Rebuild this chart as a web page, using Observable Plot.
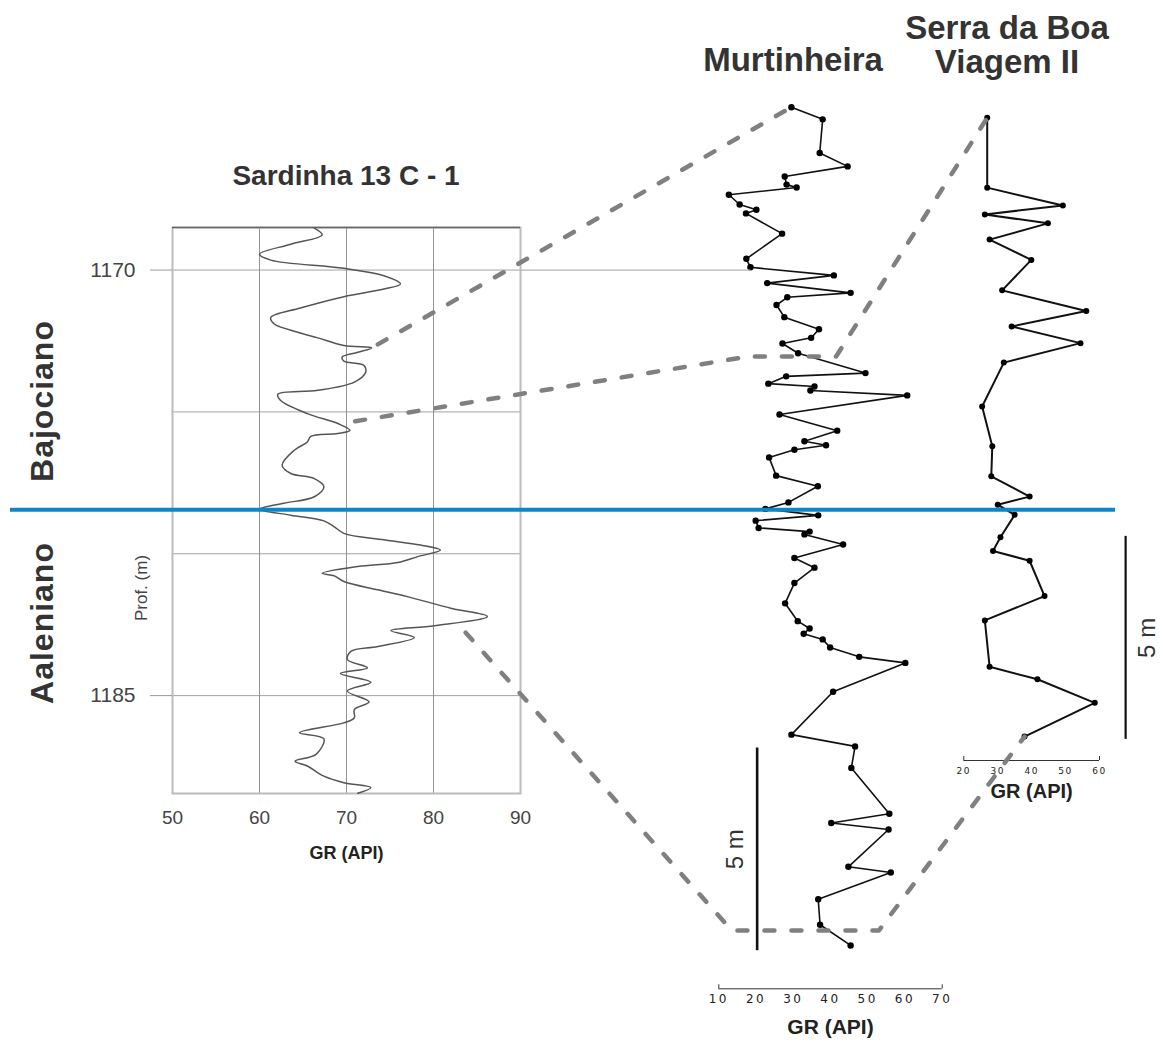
<!DOCTYPE html>
<html><head><meta charset="utf-8">
<script src="https://cdn.jsdelivr.net/npm/d3@7"></script>
<script src="https://cdn.jsdelivr.net/npm/@observablehq/plot@0.6"></script>
<style>
body{margin:0;background:#fff;font-family:"Liberation Sans",Arial,sans-serif;}
#wrap{position:relative;width:1163px;height:1048px;overflow:hidden;background:#fff;}
#wrap svg{position:absolute;top:0;}
.lbl{position:absolute;transform:translate(-50%,-50%);white-space:nowrap;color:#333;font-weight:bold;}
.rot{transform:translate(-50%,-50%) rotate(-90deg);}
.murt g[aria-label="x-axis tick label"] text{letter-spacing:2.5px;}
.serra g[aria-label="x-axis tick label"] text{letter-spacing:1.5px;}
</style></head><body><div id="wrap"></div>
<script>
// ---------- Sardinha 13 C - 1 (continuous GR log) ----------
const sardGR = [66.3,67.2,63.6,60.0,61.3,69.7,74.3,76.2,74.3,69.7,64.7,61.3,61.7,64.4,66.7,69.7,72.9,71.3,69.5,69.7,72.0,72.2,70.9,66.7,62.1,62.4,65.5,69.0,70.4,69.0,65.9,65.5,64.0,62.6,63.6,66.3,67.4,66.3,62.8,60.0,63.6,67.4,68.6,69.7,74.3,78.5,80.8,78.2,75.9,71.3,67.2,68.6,69.7,73.6,77.0,82.0,86.2,80.1,75.1,77.8,73.6,70.5,70.1,72.4,69.3,72.8,70.1,72.6,70.9,70.9,69.7,64.6,67.4,66.5,64.1,65.5,67.4,69.7,72.8,71.3];
const sardDepth = [1168.52,1168.76,1169.09,1169.44,1169.65,1169.94,1170.20,1170.49,1170.67,1170.94,1171.34,1171.67,1171.90,1172.19,1172.39,1172.66,1172.74,1172.90,1173.07,1173.21,1173.36,1173.60,1173.95,1174.24,1174.38,1174.59,1175.06,1175.41,1175.65,1175.76,1175.86,1176.06,1176.35,1176.88,1177.17,1177.35,1177.64,1177.99,1178.22,1178.43,1178.64,1178.84,1179.05,1179.28,1179.51,1179.69,1179.87,1180.10,1180.31,1180.45,1180.69,1180.78,1180.98,1181.27,1181.51,1181.92,1182.21,1182.54,1182.71,1182.95,1183.27,1183.44,1183.73,1184.02,1184.22,1184.53,1184.84,1185.22,1185.49,1185.78,1185.96,1186.31,1186.52,1187.07,1187.31,1187.48,1187.84,1188.07,1188.24,1188.44];
const sardXTicks = [50,60,70,80,90];
const sardYTicks = [1170,1185];
const sardGridY = [1170,1175,1180,1185];
const sardGridX = [60,70,80];
const sardDomainY = [1168.5,1188.45];
const boundaryDepth = 1178.45; // Bajociano / Aaleniano

// ---------- Murtinheira (GR points, depth in m from top) ----------
const murtGR = [29.5,37.9,37.1,44.6,27.7,28.2,30.9,12.7,15.6,20.1,17.3,27.0,17.4,18.5,40.9,23.0,45.4,28.4,25.5,27.6,36.9,34.8,27.1,31.3,49.4,28.1,23.3,35.7,34.6,60.6,26.3,41.8,33.0,38.8,30.3,23.5,25.4,36.6,28.7,22.5,36.7,19.9,20.7,34.4,33.0,43.4,30.3,35.7,30.3,27.8,31.2,34.4,32.8,37.9,39.9,47.7,60.1,40.7,29.5,46.6,45.6,55.8,40.2,55.6,44.8,56.2,36.7,37.2,45.4];
const murtDepth = [0,0.30,1.13,1.46,1.71,1.91,1.98,2.16,2.40,2.53,2.62,3.12,3.74,3.95,4.15,4.34,4.58,4.69,4.88,5.18,5.48,5.69,5.83,6.07,6.56,6.64,6.82,6.89,6.99,7.11,7.58,7.98,8.24,8.34,8.45,8.64,9.09,9.35,9.75,9.91,10.07,10.20,10.38,10.47,10.54,10.79,11.12,11.36,11.74,12.24,12.68,12.86,12.99,13.13,13.33,13.56,13.71,14.42,15.48,15.77,16.30,17.43,17.66,17.82,18.74,18.88,19.54,20.17,20.68];
const murtTicks = [10,20,30,40,50,60,70];
const murtDomainY = [0,21.75];
const murtBar = {gr:20.3, top:15.81, bottom:20.81, label:"5 m"};

// ---------- Serra da Boa Viagem II ----------
const serraGR = [26.9,26.9,49.2,26.2,44.8,27.6,39.9,31.3,56.1,34.1,54.4,31.8,25.4,28.4,28.1,39.4,30.0,35.0,30.8,28.6,39.4,43.8,26.2,27.6,41.7,58.6,37.9];
const serraDepth = [0,1.72,2.16,2.38,2.60,3.00,3.50,4.25,4.76,5.14,5.55,6.03,7.11,8.09,8.83,9.33,9.53,9.78,10.33,10.67,10.91,11.78,12.38,13.52,13.83,14.41,15.24];
const serraTicks = [20,30,40,50,60];
const serraDomainY = [0,15.83];
const serraBar = {gr:67.7, top:10.31, bottom:15.31, label:"5 m"};

// ---------- Correlation connectors (panel, GR, depth) ----------
const connId    = [1,1, 2,2,2,2, 3,3,3,3];
const connPanel = ["sard","murt", "sard","murt","murt","serra", "sard","murt","murt","serra"];
const connGR    = [73.6,29.5, 71.0,18.0,41.5,26.9, 83.7,13.5,53.0,37.9];
const connDepth = [1172.62,0, 1175.33,6.15,6.15,0, 1182.78,20.31,20.31,15.24];

// ---------- build ----------
const wrap = document.getElementById("wrap");
const FONT = "Liberation Sans, Arial, sans-serif";
const sard = sardGR.map((g,i)=>({gr:g, depth:sardDepth[i]}));
const murt = murtGR.map((g,i)=>({gr:g, depth:murtDepth[i]}));
const serra = serraGR.map((g,i)=>({gr:g, depth:serraDepth[i]}));

const sardPlot = Plot.plot({
  width:560, height:880, marginLeft:172, marginRight:40, marginTop:227, marginBottom:87,
  style:{background:"transparent", fontFamily:FONT},
  x:{domain:[sardXTicks[0], sardXTicks[sardXTicks.length-1]], label:null},
  y:{domain:sardDomainY, reverse:true, label:null},
  marks:[
    Plot.ruleX(sardGridX, {stroke:"#777", strokeWidth:0.8}),
    Plot.ruleY(sardGridY, {stroke:"#8a8a8a", strokeWidth:0.8}),
    Plot.frame({stroke:"#bbb", strokeWidth:2}),
    Plot.ruleY([sardDomainY[0]], {stroke:"#666", strokeWidth:1.6}),
    Plot.axisY({ticks:sardYTicks, tickSize:22, tickPadding:15, stroke:"#999", fill:"#444", fontSize:21, tickFormat:"d", label:null}),
    Plot.axisX({ticks:sardXTicks, tickSize:0, tickPadding:17, fill:"#444", fontSize:19, label:null}),
    Plot.line(sard, {x:"gr", y:"depth", curve:"catmull-rom", stroke:"#555", strokeWidth:1.5}),
    Plot.text(["GR (API)"], {frameAnchor:"bottom", dy:65, fontWeight:"bold", fontSize:18, fill:"#222"})
  ]
});
sardPlot.style.left = "0px";
wrap.appendChild(sardPlot);

const murtPlot = Plot.plot({
  className:"murt",
  width:320, height:1048, marginLeft:58.3, marginRight:38.3, marginTop:106.7, marginBottom:59.7,
  style:{background:"transparent", fontFamily:FONT},
  x:{domain:[murtTicks[0], murtTicks[murtTicks.length-1]], label:null},
  y:{domain:murtDomainY, reverse:true, label:null, axis:null},
  marks:[
    Plot.ruleY([murtDomainY[1]], {stroke:"#333", strokeWidth:1}),
    Plot.axisX({ticks:[murtTicks[0], murtTicks[murtTicks.length-1]], tickSize:4, dy:-4, stroke:"#333", tickFormat:()=>"", label:null}),
    Plot.axisX({ticks:murtTicks, tickSize:0, tickPadding:6, fill:"#222", fontSize:12, fontFamily:"DejaVu Sans", label:null}),
    Plot.ruleX([murtBar], {x:"gr", y1:"top", y2:"bottom", stroke:"#111", strokeWidth:2.6}),
    Plot.text([murtBar], {x:"gr", y:d=>(d.top+d.bottom)/2, text:"label", rotate:-90, dx:-22, fontSize:24, fill:"#333"}),
    Plot.line(murt, {x:"gr", y:"depth", stroke:"#111", strokeWidth:1.6}),
    Plot.dot(murt, {x:"gr", y:"depth", r:3.2, fill:"#000"}),
    Plot.text(["GR (API)"], {frameAnchor:"bottom", dy:45, fontWeight:"bold", fontSize:21, fill:"#222"})
  ]
});
murtPlot.style.left = "660px";
wrap.appendChild(murtPlot);

const serraPlot = Plot.plot({
  className:"serra",
  width:263, height:1048, marginLeft:63.3, marginRight:64, marginTop:117.3, marginBottom:288,
  style:{background:"transparent", fontFamily:FONT},
  x:{domain:[serraTicks[0], serraTicks[serraTicks.length-1]], label:null},
  y:{domain:serraDomainY, reverse:true, label:null, axis:null},
  marks:[
    Plot.ruleY([serraDomainY[1]], {stroke:"#333", strokeWidth:1}),
    Plot.axisX({ticks:[serraTicks[0], serraTicks[serraTicks.length-1]], tickSize:4, dy:-4, stroke:"#333", tickFormat:()=>"", label:null}),
    Plot.axisX({ticks:serraTicks, tickSize:0, tickPadding:7, fill:"#222", fontSize:9, fontFamily:"DejaVu Sans", label:null}),
    Plot.ruleX([serraBar], {x:"gr", y1:"top", y2:"bottom", stroke:"#111", strokeWidth:2.2}),
    Plot.text([serraBar], {x:"gr", y:d=>(d.top+d.bottom)/2, text:"label", rotate:-90, dx:22, fontSize:24, fill:"#333"}),
    Plot.line(serra, {x:"gr", y:"depth", stroke:"#111", strokeWidth:2}),
    Plot.dot(serra, {x:"gr", y:"depth", r:3, fill:"#000"}),
    Plot.text(["GR (API)"], {frameAnchor:"bottom", dy:37, fontWeight:"bold", fontSize:20, fill:"#222"})
  ]
});
serraPlot.style.left = "900px";
wrap.appendChild(serraPlot);

// ---------- overlay: correlation lines & stage boundary ----------
const panels = {sard:{plot:sardPlot,left:0}, murt:{plot:murtPlot,left:660}, serra:{plot:serraPlot,left:900}};
const px = (p,v) => panels[p].left + panels[p].plot.scale("x").apply(v);
const py = (p,v) => panels[p].plot.scale("y").apply(v);
const conn = connId.map((id,i)=>({id, x:px(connPanel[i], connGR[i]), y:py(connPanel[i], connDepth[i])}));
const blueY = py("sard", boundaryDepth);
const ext = {x1:px("sard", sardXTicks[sardXTicks.length-1]), x2:px("murt", murtGR[13]), y:py("sard", sardGridY[0])};

const overlay = Plot.plot({
  width:1163, height:1048, marginTop:0, marginBottom:0, marginLeft:10, marginRight:48,
  style:{background:"transparent"},
  x:{type:"identity", axis:null}, y:{type:"identity", axis:null},
  marks:[
    Plot.link([ext], {x1:"x1", x2:"x2", y1:"y", y2:"y", stroke:"#b5b5b5", strokeWidth:1.2}),
    Plot.ruleY([blueY], {stroke:"#0b87c9", strokeWidth:4}),
    Plot.line(conn, {x:"x", y:"y", z:"id", stroke:"#808080", strokeWidth:4.5, strokeDasharray:"10,17", strokeLinejoin:"round"})
  ]
});
overlay.style.left = "0px";
wrap.appendChild(overlay);

// ---------- titles & labels ----------
function label(text, x, y, size, extra){
  const d = document.createElement("div");
  d.className = "lbl" + (extra && extra.rot ? " rot" : "");
  d.style.left = x + "px"; d.style.top = y + "px"; d.style.fontSize = size + "px";
  if (extra && extra.weight) d.style.fontWeight = extra.weight;
  if (extra && extra.color) d.style.color = extra.color;
  if (extra && extra.ls) d.style.letterSpacing = extra.ls;
  if (extra && extra.lh) { d.style.lineHeight = extra.lh; d.style.textAlign = "center"; }
  d.innerHTML = text;
  wrap.appendChild(d);
}
label("Sardinha 13 C - 1", 346, 176, 28);
label("Murtinheira", 793, 60, 33);
label("Serra da Boa<br>Viagem II", 1007, 45, 33, {lh:"34px"});
label("Bajociano", 42, 401, 32, {rot:true, ls:"1px"});
label("Aaleniano", 42, 623, 32, {rot:true, ls:"1px"});
label("Prof. (m)", 142, 588, 17, {rot:true, weight:"normal", color:"#444"});
</script>
</body></html>
